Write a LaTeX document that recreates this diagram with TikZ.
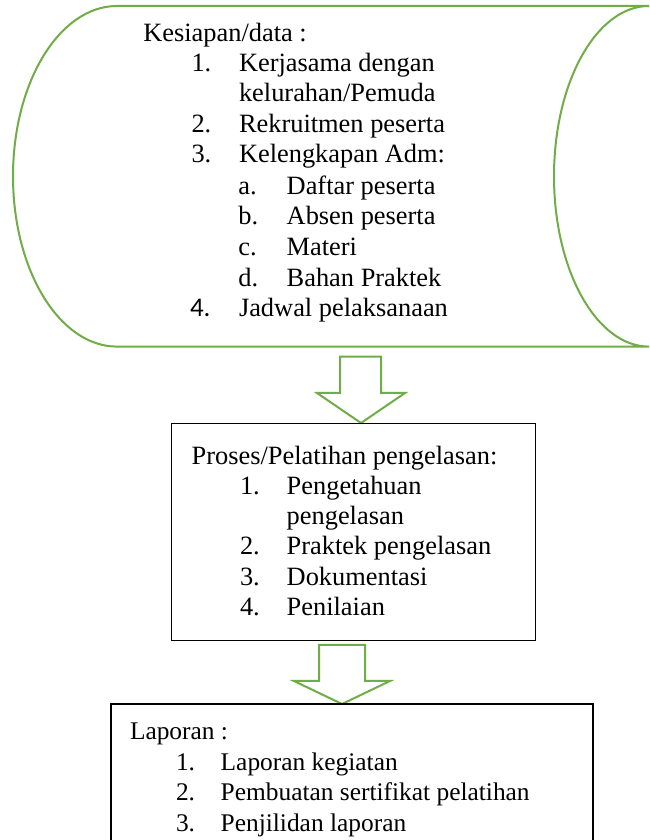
\documentclass[tikz,border=0pt]{standalone}
\usepackage{fontspec}
\setmainfont{Liberation Serif}
\newfontfamily\calibrifont{Carlito}
\definecolor{grn}{RGB}{112,173,71}
\tikzset{
  txt/.style={anchor=base west, inner sep=0pt, outer sep=0pt, font=\fontsize{26.4}{30}\selectfont},
  smalltxt/.style={txt, font=\fontsize{25.4}{30}\selectfont},
  greenline/.style={draw=grn, line width=2pt, line join=miter},
  blackbox/.style={draw=black, line width=1.3pt}
}
\begin{document}
\begin{tikzpicture}[x=1pt,y=1pt]
\clip (0,0) rectangle (649,840);
\fill[white] (0,0) rectangle (649,840);
% top stored-data shape
\draw[greenline] (117,834) arc[start angle=90, end angle=270, x radius=104, y radius=170.3]
  -- (649,493.4) arc[start angle=270, end angle=90, x radius=95, y radius=170.3] -- cycle;
\coordinate (topbottom) at (361,493.4);
% arrow 1
\draw[greenline] (340,483.3) -- (381,483.3) -- (381,447) -- (405,447) -- (361,417) -- (317,447) -- (340,447) -- cycle;
% middle box
\node[blackbox, anchor=north west, minimum width=364pt, minimum height=217pt, inner sep=0pt] (mid) at (171,417) {};
% arrow 2
\draw[greenline] (319,195) -- (365,195) -- (365,159) -- (390,159) -- (342,136) -- (294,159) -- (319,159) -- cycle;
% bottom box
\draw[blackbox] (111,-20) rectangle (593,136);
\coordinate (bot) at (342,136);

% top texts
\node[txt] (t0) at (143.3,798.3) {Kesiapan/data :};
\node[txt] (n1) at (191.5,768) {1.};
\node[txt] (t1) at (239,768) {Kerjasama dengan};
\node[txt] (t1b) at (239,738) {kelurahan/Pemuda};
\node[txt] (n2) at (191.5,707.5) {2.};
\node[txt] (t2) at (239,707.5) {Rekruitmen peserta};
\node[txt] (n3) at (191.5,677) {3.};
\node[txt] (t3) at (239,677) {Kelengkapan Adm:};
\node[txt] (na) at (238.3,645) {a.};
\node[txt] (ta) at (286.7,645) {Daftar peserta};
\node[txt] (nb) at (238.3,615) {b.};
\node[txt] (tb) at (286.7,615) {Absen peserta};
\node[txt] (nc) at (238.3,584) {c.};
\node[txt] (tc) at (286.7,584) {Materi};
\node[txt] (nd) at (238.3,553.3) {d.};
\node[txt] (td) at (286.7,553.3) {Bahan Praktek};
\node[txt, font=\fontsize{27}{30}\calibrifont] (n4) at (190,523.3) {4.};
\node[txt] (t4) at (239,523.3) {Jadwal pelaksanaan};

% middle texts
\node[txt] (m0) at (191.7,375) {Proses/Pelatihan pengelasan:};
\node[txt] (mn1) at (240,345) {1.};
\node[txt] (m1) at (286.7,345) {Pengetahuan};
\node[txt] (m1b) at (286.7,315) {pengelasan};
\node[txt] (mn2) at (240,285) {2.};
\node[txt] (m2) at (286.7,285) {Praktek pengelasan};
\node[txt] (mn3) at (240,254.5) {3.};
\node[txt] (m3) at (286.7,254.5) {Dokumentasi};
\node[txt] (mn4) at (240,224.5) {4.};
\node[txt] (m4) at (286.7,224.5) {Penilaian};

% bottom texts
\node[smalltxt] (b0) at (130,100) {Laporan :};
\node[smalltxt] (bn1) at (176,69.5) {1.};
\node[smalltxt] (b1) at (220.7,69.5) {Laporan kegiatan};
\node[smalltxt] (bn2) at (176,39) {2.};
\node[smalltxt] (b2) at (220.7,39) {Pembuatan sertifikat pelatihan};
\node[smalltxt] (bn3) at (176,9) {3.};
\node[smalltxt] (b3) at (220.7,9) {Penjilidan laporan};
\end{tikzpicture}
\end{document}
